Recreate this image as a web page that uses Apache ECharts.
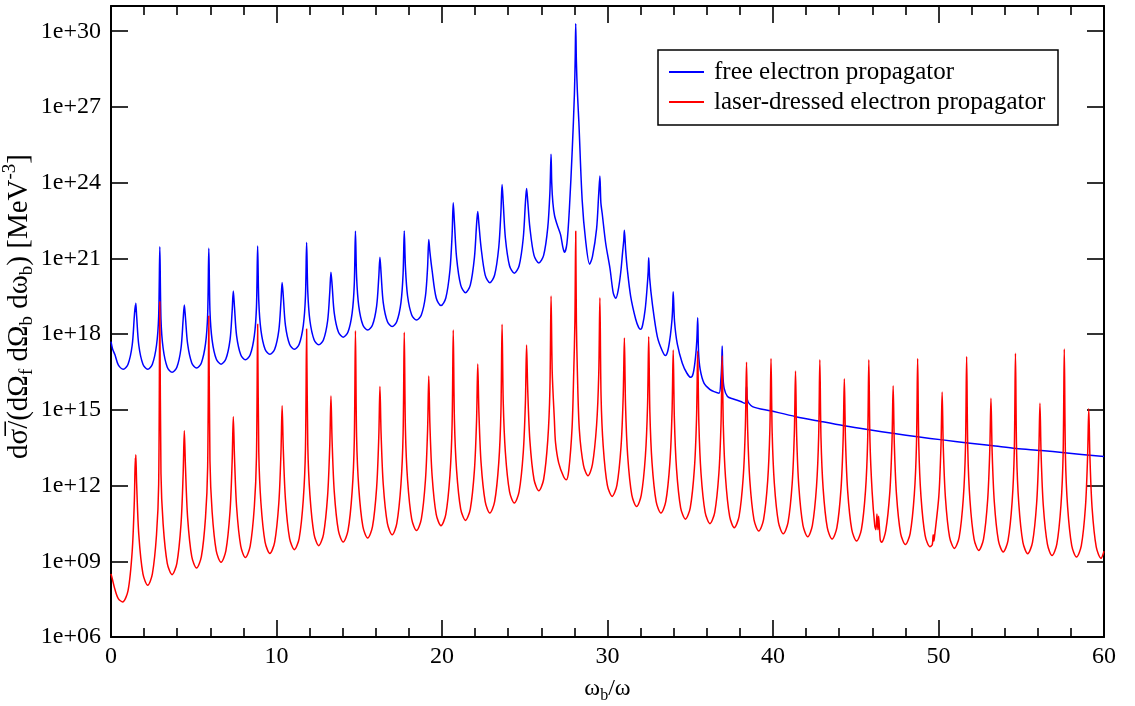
<!DOCTYPE html>
<html><head><meta charset="utf-8">
<script src="https://cdn.jsdelivr.net/npm/echarts@6/dist/echarts.min.js"></script>
<style>html,body{margin:0;padding:0;background:#fff}#chart{width:1135px;height:706px}</style>
</head><body><div id="chart"></div>
<script>
// values: [omega_b/omega, log10(cross section in MeV^-3)]
const freeElectron = [
[0,17.7],[0.1,17.4],[0.24,17.18],[0.44,16.78],[0.74,16.61],
[1.03,16.81],[1.28,17.56],[1.41,18.71],[1.47,19.15],[1.485,18.9],[1.5,19.22],
[1.55,18.71],[1.68,17.56],[1.93,16.81],[2.22,16.61],[2.5,16.81],[2.75,17.56],[2.88,18.71],
[2.95,21.46],
[3.02,18.59],[3.15,17.44],[3.4,16.69],[3.69,16.49],[3.98,16.69],[4.23,17.44],[4.36,18.59],
[4.43,19.15],
[4.5,18.65],[4.63,17.61],[4.88,16.86],[5.17,16.66],[5.46,16.86],[5.71,17.61],[5.84,18.76],
[5.91,21.4],
[5.98,18.91],[6.11,17.76],[6.36,17.01],[6.65,16.81],[6.94,17.01],[7.19,17.76],[7.32,18.91],
[7.39,19.71],
[7.46,19.08],[7.59,17.93],[7.84,17.18],[8.12,16.98],[8.41,17.18],[8.66,17.93],[8.79,19.08],
[8.86,21.49],
[8.93,19.3],[9.06,18.15],[9.31,17.4],[9.6,17.2],[9.89,17.4],[10.14,18.15],[10.27,19.3],
[10.34,20.05],
[10.41,19.5],[10.54,18.35],[10.79,17.6],[11.08,17.4],[11.37,17.6],[11.62,18.35],[11.75,19.5],
[11.82,21.63],
[11.89,19.68],[12.02,18.53],[12.27,17.78],[12.55,17.58],[12.84,17.78],[13.09,18.53],[13.22,19.68],
[13.29,20.45],
[13.36,19.95],[13.49,18.83],[13.74,18.08],[14.03,17.88],[14.32,18.08],[14.57,18.83],[14.7,19.98],
[14.77,22.08],
[14.84,20.26],[14.97,19.11],[15.22,18.36],[15.51,18.16],[15.8,18.36],[16.05,19.11],[16.18,20.26],
[16.25,21.05],
[16.32,20.4],[16.45,19.25],[16.7,18.5],[16.99,18.3],[17.27,18.5],[17.52,19.25],[17.65,20.4],
[17.72,22.09],
[17.79,20.66],[17.92,19.51],[18.17,18.76],[18.46,18.56],[18.75,18.76],[19.0,19.51],[19.13,20.66],
[19.2,21.75],
[19.27,21.25],[19.4,20.53],[19.65,19.43],[19.94,19.13],[20.23,19.43],[20.48,20.53],[20.61,21.93],
[20.68,23.2],
[20.75,22.44],[20.88,21.04],[21.13,19.94],[21.42,19.64],[21.71,19.94],[21.96,21.04],[22.09,22.36],
[22.16,22.86],
[22.23,22.36],[22.36,21.44],[22.61,20.34],[22.89,20.04],[23.18,20.34],[23.43,21.44],[23.56,22.84],
[23.63,23.93],
[23.7,23.21],[23.83,21.81],[24.08,20.71],[24.37,20.41],[24.66,20.71],[24.91,21.81],[25.04,23.21],
[25.11,23.77],
[25.18,23.27],[25.31,22.22],[25.56,21.12],[25.85,20.82],[26.14,21.12],[26.39,22.22],[26.52,23.62],
[26.59,25.13],
[26.63,24.0],[26.7,23.2],[26.8,22.7],[26.95,22.35],[27.16,21.95],[27.3,21.45],[27.4,21.24],
[27.55,21.6],[27.7,23.0],[27.87,25.3],[28.0,27.5],[28.05,29.0],[28.08,30.3],
[28.12,28.8],[28.18,27.6],[28.27,26.4],[28.47,23.3],[28.68,21.7],[28.92,20.77],
[29.09,21.07],[29.34,22.17],[29.47,23.57],[29.54,24.26],
[29.6,23.2],[29.68,22.78],[29.89,21.6],[30.15,20.6],[30.35,19.62],[30.5,19.42],[30.65,19.75],
[30.8,20.45],[30.92,21.3],[30.98,21.7],[31.02,22.12],
[31.1,21.3],[31.2,20.55],[31.4,19.5],[31.7,18.6],[31.88,18.27],[32.0,18.19],[32.12,18.35],
[32.28,19.0],[32.4,19.9],[32.46,20.5],[32.49,21.03],
[32.55,20.2],[32.71,19.2],[33.01,17.9],[33.3,17.35],[33.5,17.15],[33.65,17.35],
[33.8,17.95],[33.9,18.6],[33.94,19.1],[33.97,19.68],
[34.05,18.5],[34.22,17.6],[34.52,16.85],[34.8,16.45],[35.03,16.29],[35.18,16.45],
[35.32,17.1],[35.4,17.8],[35.45,18.65],
[35.5,17.3],[35.6,16.6],[35.83,16.06],[36.2,15.8],[36.44,15.72],[36.74,15.66],[36.85,16.2],[36.9,16.8],
[36.93,17.53],
[36.97,16.4],[37.05,15.85],[37.25,15.53],[37.6,15.43],[38.05,15.33],[38.3,15.26],[38.37,15.5],[38.4,15.92],[38.45,15.4],[38.76,15.13],
[39.87,14.96],[41.38,14.73],[42.89,14.54],[44.3,14.37],[45.81,14.21],[47.33,14.06],[48.74,13.93],[50.25,13.81],
[51.77,13.69],[53.18,13.59],[54.69,13.47],[56.2,13.39],[57.61,13.3],[60,13.15]
];

const laserDressed = [
[0,8.5],[0.08,8.3],[0.24,7.88],[0.44,7.52],[0.7,7.39],[1.03,7.84],[1.28,9.39],[1.41,11.39],
[1.47,13.1],[1.485,12.8],[1.5,13.22],
[1.55,12.05],[1.68,10.05],[1.93,8.5],[2.22,8.05],[2.5,8.5],[2.75,10.05],[2.88,12.05],
[2.95,19.28],
[3.02,12.47],[3.15,10.47],[3.4,8.92],[3.69,8.47],[3.98,8.92],[4.23,10.47],[4.36,12.47],
[4.43,14.17],
[4.5,12.73],[4.63,10.73],[4.88,9.18],[5.17,8.73],[5.46,9.18],[5.71,10.73],[5.84,12.73],
[5.91,18.72],
[5.98,12.96],[6.11,10.96],[6.36,9.41],[6.65,8.96],[6.94,9.41],[7.19,10.96],[7.32,12.96],
[7.39,14.73],
[7.46,13.15],[7.59,11.15],[7.84,9.6],[8.12,9.15],[8.41,9.6],[8.66,11.15],[8.79,13.15],
[8.86,18.39],
[8.93,13.31],[9.06,11.31],[9.31,9.76],[9.6,9.31],[9.89,9.76],[10.14,11.31],[10.27,13.31],
[10.34,15.16],
[10.41,13.46],[10.54,11.46],[10.79,9.91],[11.08,9.46],[11.37,9.91],[11.62,11.46],[11.75,13.46],
[11.82,18.2],
[11.89,13.62],[12.02,11.62],[12.27,10.07],[12.55,9.62],[12.84,10.07],[13.09,11.62],[13.22,13.62],
[13.29,15.55],
[13.36,13.76],[13.49,11.76],[13.74,10.21],[14.03,9.76],[14.32,10.21],[14.57,11.76],[14.7,13.76],
[14.77,18.13],
[14.84,13.92],[14.97,11.92],[15.22,10.37],[15.51,9.92],[15.8,10.37],[16.05,11.92],[16.18,13.92],
[16.25,15.92],
[16.32,14.05],[16.45,12.05],[16.7,10.5],[16.99,10.05],[17.27,10.5],[17.52,12.05],[17.65,14.05],
[17.72,18.07],
[17.79,14.22],[17.92,12.22],[18.17,10.67],[18.46,10.22],[18.75,10.67],[19.0,12.22],[19.13,14.22],
[19.2,16.34],
[19.27,14.41],[19.4,12.41],[19.65,10.86],[19.94,10.41],[20.23,10.86],[20.48,12.41],[20.61,14.41],
[20.68,18.16],
[20.75,14.62],[20.88,12.62],[21.13,11.07],[21.42,10.62],[21.71,11.07],[21.96,12.62],[22.09,14.62],
[22.16,16.82],
[22.23,14.91],[22.36,12.91],[22.61,11.36],[22.89,10.91],[23.18,11.36],[23.43,12.91],[23.56,14.91],
[23.63,18.39],
[23.7,15.31],[23.83,13.31],[24.08,11.76],[24.37,11.31],[24.66,11.76],[24.91,13.31],[25.04,15.31],
[25.11,17.57],
[25.18,15.79],[25.31,13.79],[25.56,12.24],[25.85,11.79],[26.14,12.24],[26.39,13.79],[26.52,15.79],
[26.59,19.51],
[26.66,16.5],[26.79,14.6],[26.86,13.7],[27.05,12.9],[27.35,12.35],[27.51,12.23],
[27.66,12.6],[27.86,14.3],[27.96,16.5],[28.03,18.5],[28.08,22.08],[28.12,18.5],[28.18,16.5],[28.3,14.2],[28.55,12.8],[28.82,12.39],
[29.09,12.84],[29.34,14.39],[29.47,16.39],
[29.54,19.44],
[29.61,15.57],[29.74,13.57],[29.99,12.02],[30.28,11.57],[30.57,12.02],[30.82,13.57],[30.95,15.57],
[31.02,17.85],
[31.09,15.17],[31.22,13.17],[31.47,11.62],[31.76,11.17],[32.04,11.62],[32.29,13.17],[32.42,15.17],
[32.49,17.9],
[32.56,14.91],[32.69,12.91],[32.94,11.36],[33.23,10.91],[33.52,11.36],[33.77,12.91],[33.9,14.91],
[33.97,17.37],
[34.04,14.67],[34.17,12.67],[34.42,11.12],[34.71,10.67],[35.0,11.12],[35.25,12.67],[35.38,14.67],
[35.45,17.33],
[35.52,14.49],[35.65,12.49],[35.9,10.94],[36.19,10.49],[36.48,10.94],[36.73,12.49],[36.86,14.49],
[36.93,17.14],
[37.0,14.33],[37.13,12.33],[37.38,10.78],[37.66,10.33],[37.95,10.78],[38.2,12.33],[38.33,14.33],
[38.4,16.89],
[38.47,14.2],[38.6,12.2],[38.85,10.65],[39.14,10.2],[39.43,10.65],[39.68,12.2],[39.81,14.2],
[39.88,17.03],
[39.95,14.09],[40.08,12.09],[40.33,10.54],[40.62,10.09],[40.91,10.54],[41.16,12.09],[41.29,14.09],
[41.36,16.54],
[41.43,13.97],[41.56,11.97],[41.81,10.42],[42.1,9.97],[42.38,10.42],[42.63,11.97],[42.76,13.97],
[42.83,16.98],
[42.9,13.88],[43.03,11.88],[43.28,10.33],[43.57,9.88],[43.86,10.33],[44.11,11.88],[44.24,13.88],
[44.31,16.23],
[44.38,13.8],[44.51,11.8],[44.76,10.25],[45.05,9.8],[45.34,10.25],[45.59,11.8],[45.72,13.8],
[45.79,16.98],
[45.86,13.75],[45.99,11.75],[46.15,10.4],[46.22,10.25],[46.28,10.87],[46.34,10.25],[46.38,10.78],[46.48,9.85],[46.56,9.75],[46.81,10.2],[47.06,11.75],[47.19,13.75],
[47.26,15.95],
[47.33,13.66],[47.46,11.66],[47.71,10.11],[48.0,9.66],[48.29,10.11],[48.54,11.66],[48.67,13.66],
[48.74,17.03],
[48.81,13.58],[48.94,11.58],[49.19,10.03],[49.48,9.58],[49.62,9.65],[49.68,10.05],[49.72,9.8],[49.77,10.03],[50.02,11.58],[50.15,13.58],
[50.22,15.71],
[50.29,13.51],[50.42,11.51],[50.67,9.96],[50.96,9.51],[51.25,9.96],[51.5,11.51],[51.63,13.51],
[51.7,17.11],
[51.77,13.43],[51.9,11.43],[52.15,9.88],[52.43,9.43],[52.72,9.88],[52.97,11.43],[53.1,13.43],
[53.17,15.46],
[53.24,13.37],[53.37,11.37],[53.62,9.82],[53.91,9.37],[54.2,9.82],[54.45,11.37],[54.58,13.37],
[54.65,17.24],
[54.72,13.3],[54.85,11.3],[55.1,9.75],[55.39,9.3],[55.68,9.75],[55.93,11.3],[56.06,13.3],
[56.13,15.26],
[56.2,13.23],[56.33,11.23],[56.58,9.68],[56.86,9.23],[57.15,9.68],[57.4,11.23],[57.53,13.23],
[57.6,17.41],
[57.67,13.17],[57.8,11.17],[58.05,9.62],[58.34,9.17],[58.63,9.62],[58.88,11.17],[59.01,13.17],
[59.08,15.04],
[59.15,13.12],[59.28,11.12],[59.53,9.57],[59.82,9.12],[60,9.4]
];

const seriesNames = ['free electron propagator', 'laser-dressed electron propagator'];
const seriesColors = ['#0000ff', '#ff0000'];
const xRange = [0, 60];
const yExpRange = [6, 31];   // 1e+06 .. 1e+31

const FONT = 'Liberation Serif';
const chart = echarts.init(document.getElementById('chart'), null, {renderer: 'canvas'});
const expLabel = v => (v > 30 ? '' : '1e+' + (v < 10 ? '0' + v : v));

const lineBlack = {color: '#000', width: 1.6};
function xAxis(pos, showLabel) {
  return {
    type: 'value', position: pos, min: xRange[0], max: xRange[1], interval: 10,
    axisLine: {onZero: false, lineStyle: {color: '#000', width: 2}},
    axisTick: {inside: true, length: 17, lineStyle: lineBlack},
    minorTick: {show: true, splitNumber: 5, length: 9, lineStyle: lineBlack},
    splitLine: {show: false}, minorSplitLine: {show: false},
    axisLabel: {show: showLabel, color: '#000', fontFamily: FONT, fontSize: 24, margin: 8}
  };
}
function yAxis(pos, showLabel) {
  return {
    type: 'value', position: pos, min: yExpRange[0], max: yExpRange[1], interval: 3,
    axisLine: {onZero: false, lineStyle: {color: '#000', width: 2}},
    axisTick: {inside: true, length: 17, lineStyle: lineBlack},
    splitLine: {show: false},
    axisLabel: {show: showLabel, showMaxLabel: false, color: '#000', fontFamily: FONT, fontSize: 24, margin: 10, formatter: expLabel}
  };
}
const xa0 = xAxis('bottom', true);
xa0.name = 'ω{s|b}/ω';
xa0.nameLocation = 'middle';
xa0.nameGap = 36;
xa0.nameTextStyle = {color: '#000', fontFamily: FONT, fontSize: 24, lineHeight: 30,
  rich: {s: {fontFamily: FONT, fontSize: 16, lineHeight: 16, verticalAlign: 'bottom', color: '#000'}}};
const ya0 = yAxis('left', true);
ya0.name = 'dσ\u0305/(dΩ{s|f} dΩ{s|b} dω{s|b}) [MeV{p|-3}]';
ya0.nameLocation = 'middle';
ya0.nameRotate = 90;
ya0.nameMoveOverlap = false;
ya0.nameGap = 74;
ya0.nameTextStyle = {color: '#000', fontFamily: FONT, fontSize: 29, lineHeight: 36, padding: [0, 0, 0, 30],
  rich: {
    s: {fontFamily: FONT, fontSize: 19, lineHeight: 19, verticalAlign: 'bottom', color: '#000'},
    p: {fontFamily: FONT, fontSize: 19, lineHeight: 19, verticalAlign: 'top', color: '#000'}
  }};

const option = {
  animation: false,
  backgroundColor: '#fff',
  grid: {left: 111, right: 31, top: 6, bottom: 69, containLabel: false, outerBoundsMode: 'none'},
  xAxis: [xa0, xAxis('top', false)],
  yAxis: [ya0, yAxis('right', false)],
  legend: {
    orient: 'vertical', left: 668, top: 57, padding: 0, itemGap: 0,
    itemWidth: 35, itemHeight: 14, selectedMode: false,
    itemStyle: {opacity: 0},
    textStyle: {color: '#000', fontFamily: FONT, fontSize: 25, lineHeight: 30, padding: [0, 0, 0, 5]},
    data: seriesNames
  },
  graphic: [{
    type: 'rect', z: 3, shape: {x: 658, y: 50, width: 400, height: 75},
    style: {fill: '#fff', stroke: '#000', lineWidth: 1.5}
  }],
  series: [freeElectron, laserDressed].map((d, i) => ({
    name: seriesNames[i], type: 'line', data: d, xAxisIndex: 0, yAxisIndex: 0,
    symbol: 'none', showSymbol: false, smooth: 0.3, sampling: null,
    color: seriesColors[i],
    lineStyle: {color: seriesColors[i], width: 1.5, join: 'round'},
    emphasis: {disabled: true}, z: 2 + i
  }))
};
chart.setOption(option);
</script></body></html>
